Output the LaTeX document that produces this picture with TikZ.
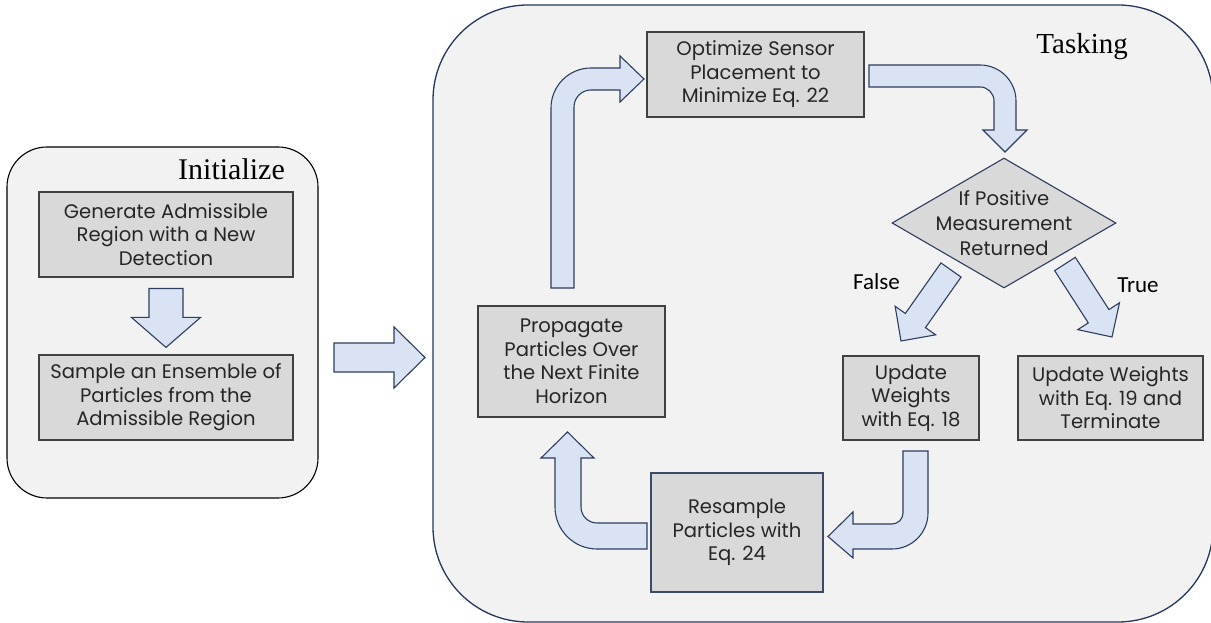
\documentclass[tikz,border=0pt]{standalone}
\usepackage{fontspec}
\setmainfont{Liberation Serif}
\newfontfamily\boxfont{Poppins}
\newfontfamily\lblfont{Carlito}
\usetikzlibrary{shapes.geometric,calc}
\definecolor{panelgray}{HTML}{F2F2F2}
\definecolor{boxgray}{HTML}{D9D9D9}
\definecolor{boxborder}{HTML}{404040}
\definecolor{resborder}{HTML}{3B4A66}
\definecolor{arrowfill}{HTML}{DAE3F3}
\definecolor{arrowborder}{HTML}{2E3E5E}
\definecolor{navyborder}{HTML}{24375F}
\definecolor{txtgray}{HTML}{262626}
\tikzset{
  panelL/.style={draw=black, fill=panelgray, line width=1.1pt, rounded corners=40pt, inner sep=0pt},
  panelR/.style={draw=navyborder, fill=panelgray, line width=1.3pt, rounded corners=95pt, inner sep=0pt},
  stepbox/.style={draw=boxborder, fill=boxgray, line width=1.1pt, align=center, inner sep=0pt,
     text=txtgray, font=\boxfont\fontsize{19.6}{23.5}\selectfont},
  blockarrow/.style={draw=arrowborder, fill=arrowfill, line width=1.1pt, line join=miter},
  paneltitle/.style={anchor=base east, text=black, inner sep=0pt},
  branchlbl/.style={font=\lblfont\fontsize{23}{26}\selectfont, text=black, inner sep=0pt}
}
\newcommand{\blockarr}[5]{%
  \coordinate (ba-hb) at ($(#2)!#5!(#1)$);
  \draw[blockarrow] ($(#1)!#3!90:(#2)$) -- ($(ba-hb)!#3!90:(#2)$) -- ($(ba-hb)!#4!90:(#2)$) -- (#2)
     -- ($(ba-hb)!#4!-90:(#2)$) -- ($(ba-hb)!#3!-90:(#2)$) -- ($(#1)!#3!-90:(#2)$) -- cycle;}
\begin{document}
\begin{tikzpicture}[x=1pt,y=1pt]
\useasboundingbox (0,0) rectangle (1211,623);
\fill[white] (0,0) rectangle (1211,623);
% panels
\node[panelL, minimum width=311pt, minimum height=351pt] (initpanel) at (162.5,300.5) {};
\node[panelR, minimum width=780pt, minimum height=617pt] (taskpanel) at (823,309.5) {};
\node[paneltitle, font=\fontsize{30}{32}\selectfont] (initlbl) at (285,443) {Initialize};
\node[paneltitle, font=\fontsize{29}{32}\selectfont] (tasklbl) at (1128,569) {Tasking};
% boxes
\node[stepbox, minimum width=254pt, minimum height=85pt] (gen) at (166,388.5) {Generate Admissible\\Region with a New\\Detection};
\node[stepbox, minimum width=254pt, minimum height=85pt] (samp) at (166,225.5) {Sample an Ensemble of\\Particles from the\\Admissible Region};
\node[stepbox, minimum width=217pt, minimum height=85pt] (opt) at (755.5,548.5) {Optimize Sensor\\Placement to\\Minimize Eq. 22};
\node[stepbox, minimum width=187pt, minimum height=111pt] (prop) at (571.5,261.5) {Propagate\\Particles Over\\the Next Finite\\Horizon};
\node[stepbox, draw=resborder, minimum width=172pt, minimum height=119pt] (res) at (737,90.5) {Resample\\Particles with\\Eq. 24};
\node[stepbox, minimum width=136pt, minimum height=84pt] (up18) at (911,225) {Update\\Weights\\with Eq. 18};
\node[stepbox, minimum width=185pt, minimum height=84pt] (up19) at (1110.5,225) {Update Weights\\with Eq. 19 and\\Terminate};
% decision
\node[diamond, draw=arrowborder, fill=boxgray, line width=1.1pt, minimum width=224pt, minimum height=130pt, inner sep=0pt] (dia) at (1004,400) {};
\node[align=center, inner sep=0pt, text=txtgray, font=\boxfont\fontsize{19.6}{25}\selectfont] (diatext) at (dia.center) {If Positive\\Measurement\\Returned};
% labels
\node[branchlbl] (falselbl) at (876.5,341) {False};
\node[branchlbl] (truelbl) at (1138,338) {True};
% straight block arrows
\coordinate (a1s) at ($(gen.south)+(0,-11)$);
\coordinate (a1t) at ($(samp.north)+(0,7)$);
\blockarr{a1s}{a1t}{17pt}{34.5pt}{30pt}
\coordinate (a2s) at (334,265.5);
\coordinate (a2t) at (425,265.5);
\blockarr{a2s}{a2t}{14.5pt}{30.5pt}{31pt}
\coordinate (fs) at (951,353);
\coordinate (ft) at (901,282);
\blockarr{fs}{ft}{12.3pt}{24.8pt}{25pt}
\coordinate (ts) at (1065,359);
\coordinate (tt) at (1112,286);
\blockarr{ts}{tt}{12.3pt}{24.8pt}{24.7pt}
% bent arrows
\draw[blockarrow] (551,335) -- (551,515) arc[start angle=180, end angle=90, radius=40]
  -- (620,555) -- (620,567) -- (644,544) -- (620,521) -- (620,533) -- (591,533)
  arc[start angle=90, end angle=180, radius=17] -- (574,335) -- cycle;
\draw[blockarrow] (869,558) -- (980,558) arc[start angle=90, end angle=0, radius=36]
  -- (1016,493) -- (1027,493) -- (1005,471) -- (983,493) -- (994,493) -- (994,522)
  arc[start angle=0, end angle=90, radius=14] -- (869,536) -- cycle;
\draw[blockarrow] (647,74) -- (597,74) arc[start angle=270, end angle=180, radius=42]
  -- (555,165) -- (541,165) -- (567.5,191) -- (594,165) -- (581,165) -- (581,116)
  arc[start angle=180, end angle=270, radius=16] -- (647,100) -- cycle;
\draw[blockarrow] (903,172) -- (928,172) -- (928,110) arc[start angle=0, end angle=-90, radius=36]
  -- (853,74) -- (853,65) -- (828,86.5) -- (853,111) -- (853,99) -- (892,99)
  arc[start angle=-90, end angle=0, radius=11] -- cycle;
\end{tikzpicture}
\end{document}
